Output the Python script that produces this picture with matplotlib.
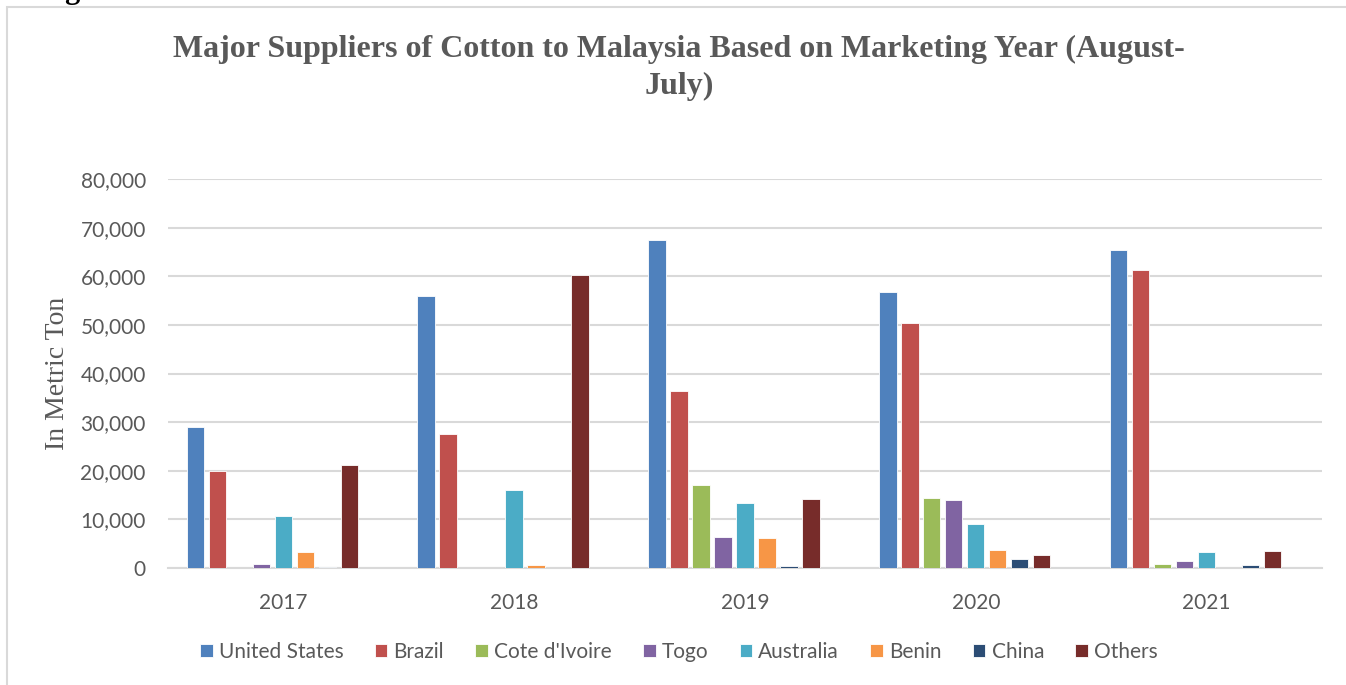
import numpy as np
import matplotlib.pyplot as plt
from matplotlib.patches import Rectangle

years = ['2017', '2018', '2019', '2020', '2021']
suppliers = ['United States', 'Brazil', "Cote d'Ivoire", 'Togo', 'Australia', 'Benin', 'China', 'Others']

united_states = [29000, 56000, 67500, 56800, 65400]
brazil = [19900, 27600, 36400, 50400, 61300]
cote_divoire = [0, 0, 17000, 14300, 800]
togo = [900, 0, 6400, 14000, 1400]
australia = [10600, 16000, 13300, 9000, 3300]
benin = [3200, 600, 6200, 3800, 100]
china = [150, 0, 400, 1900, 550]
others = [21100, 60300, 14100, 2600, 3400]

colors = ['#4F81BD', '#C0504D', '#9BBB59', '#8064A2', '#4BACC6', '#F79646', '#2C4D75', '#772C2A']
series = [united_states, brazil, cote_divoire, togo, australia, benin, china, others]

grey = '#595959'
fig = plt.figure(figsize=(13.46, 6.85), dpi=100)
ax = fig.add_axes([168/1346, 1-568/685, 1154/1346, 389/685])

x = np.arange(len(years))
pitch = 0.0953
width = 0.076
shift = -0.048  # groups sit slightly left of the tick labels
for i, (vals, name) in enumerate(zip(series, suppliers)):
    off = (i - 3.5) * pitch + shift
    ax.bar(x + off, vals, width, color=colors[i], edgecolor='white', linewidth=0.6,
           label=name, zorder=3)

ax.set_xlim(-0.5, 4.5)
ax.set_ylim(0, 80000)
ax.set_yticks(np.arange(0, 80001, 10000))
ax.set_yticklabels(['{:,}'.format(v) for v in range(0, 80001, 10000)])
ax.set_xticks(x)
ax.set_xticklabels(years)
ax.grid(axis='y', color='#D9D9D9', linewidth=1.5, zorder=0)
for s in ['top', 'right', 'left']:
    ax.spines[s].set_visible(False)
ax.spines['bottom'].set_color('#D9D9D9')
ax.spines['bottom'].set_linewidth(1.5)
ax.tick_params(axis='both', length=0, labelsize=15, labelcolor=grey, labelfontfamily='Lato')
ax.tick_params(axis='y', pad=16)
ax.tick_params(axis='x', pad=18)

ax.set_ylabel('In Metric Ton', fontsize=20, color=grey, family='Liberation Serif')
ax.yaxis.set_label_coords(-0.085, 0.5)

fig.text(679/1346, 1-68/685, 'Major Suppliers of Cotton to Malaysia Based on Marketing Year (August-\nJuly)',
         ha='center', va='center', fontsize=23, fontweight='bold', color=grey,
         family='Liberation Serif', linespacing=1.33)

fig.text(38/1346, 1 + 2/685, 'Figure 5.', fontsize=22, fontweight='bold', family='Liberation Serif',
         color='black', va='baseline', ha='left')

fig.patches.append(Rectangle((6.5/1346, -0.1), 1.2, 1 - 6.5/685 + 0.1, transform=fig.transFigure,
                             fill=False, edgecolor='#D9D9D9', linewidth=1.5))

handles, labels = ax.get_legend_handles_labels()
fig.legend(handles, labels, loc='center', bbox_to_anchor=(679/1346, 1-652/685), ncol=8,
           frameon=False, handlelength=0.6, handleheight=0.6, handletextpad=0.3,
           columnspacing=1.5, prop={'family': 'Lato', 'size': 15}, labelcolor=grey)

fig.savefig('out.png', dpi=100)
